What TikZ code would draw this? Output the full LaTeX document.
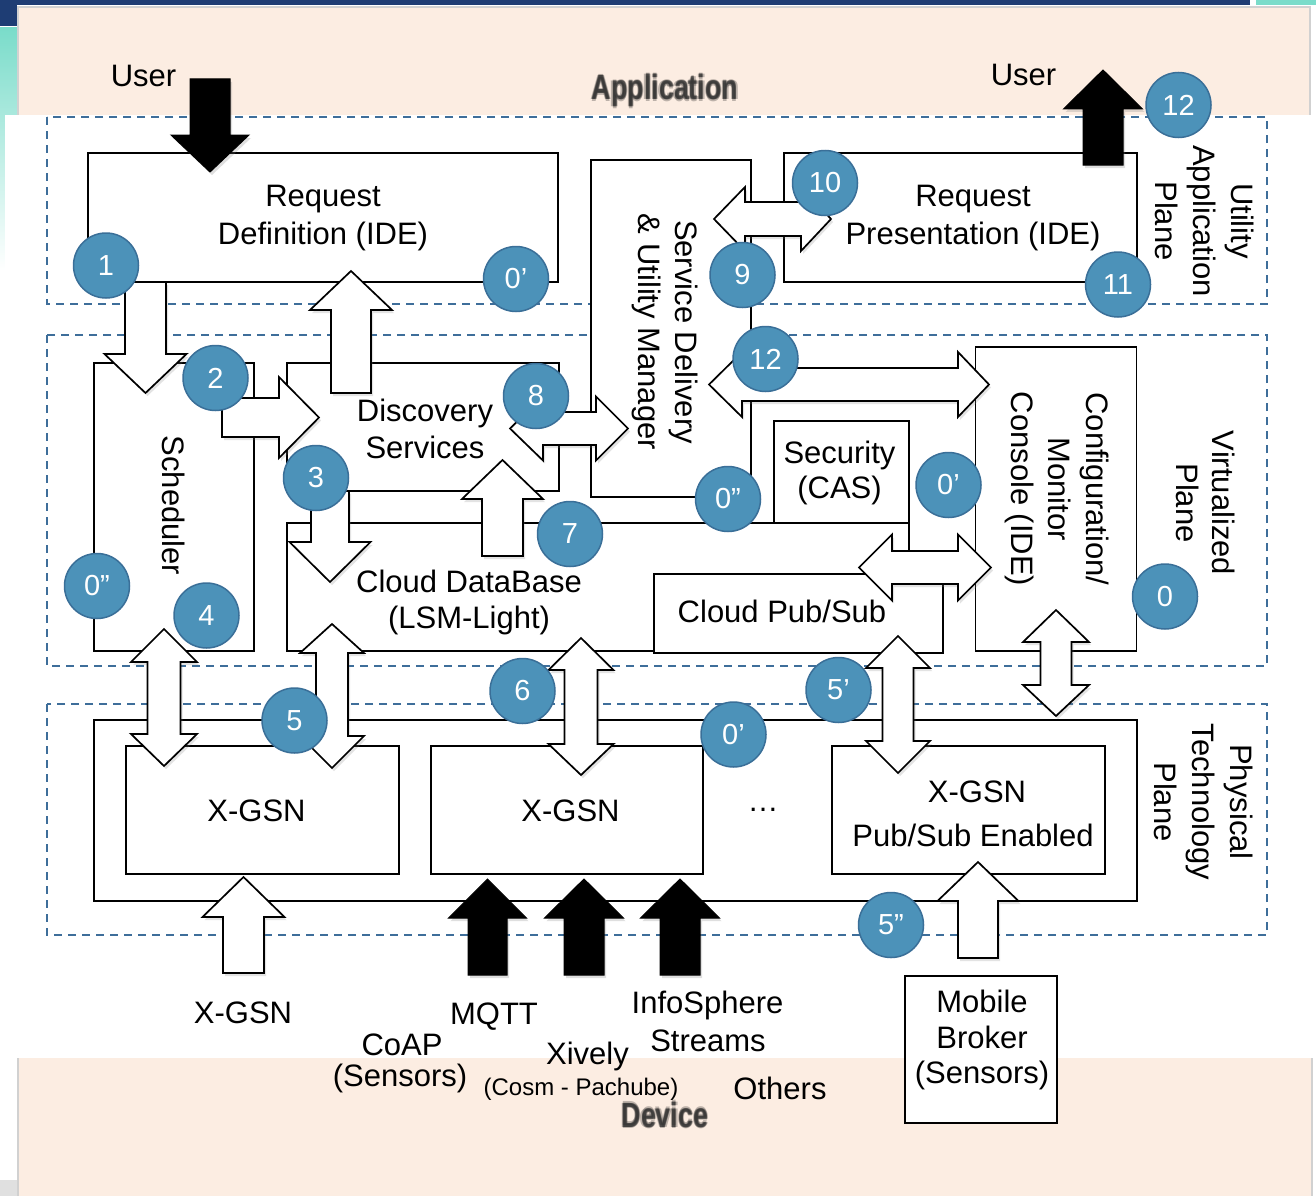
\documentclass[tikz,border=0pt]{standalone}
\usepackage{fontspec}
\usepackage{graphicx}
\setmainfont{Liberation Sans}
\usetikzlibrary{shadows}

\definecolor{peach}{RGB}{252,237,226}
\definecolor{dashblue}{RGB}{62,110,154}
\definecolor{badgefill}{RGB}{76,146,185}
\definecolor{badgeedge}{RGB}{58,111,152}
\definecolor{topband}{RGB}{30,61,116}
\definecolor{tealband}{RGB}{122,220,202}

\newcommand\fsMain{\fontsize{31}{38}\selectfont}
\newcommand\fsSmall{\fontsize{24}{28}\selectfont}

% vertical block arrow: style, x, tail y, head-base y, tip y, half shaft, half head
\newcommand\vblk[7]{\draw[#1] ({#2-#6},#3) -- ({#2-#6},#4) -- ({#2-#7},#4) -- (#2,#5)
  -- ({#2+#7},#4) -- ({#2+#6},#4) -- ({#2+#6},#3) -- cycle;}
% double vertical block arrow: style, x, top tip, top base, bottom base, bottom tip, half shaft, half head
\newcommand\dvblk[8]{\draw[#1] (#2,#3) -- ({#2+#8},#4) -- ({#2+#7},#4) -- ({#2+#7},#5)
  -- ({#2+#8},#5) -- (#2,#6) -- ({#2-#8},#5) -- ({#2-#7},#5) -- ({#2-#7},#4) -- ({#2-#8},#4) -- cycle;}
% horizontal block arrow: style, y, tail x, head-base x, tip x, half shaft, half head
\newcommand\hblk[7]{\draw[#1] (#3,{#2-#6}) -- (#4,{#2-#6}) -- (#4,{#2-#7}) -- (#5,#2)
  -- (#4,{#2+#7}) -- (#4,{#2+#6}) -- (#3,{#2+#6}) -- cycle;}
% double horizontal block arrow: style, y, left tip, left base, right base, right tip, half shaft, half head
\newcommand\dhblk[8]{\draw[#1] (#3,#2) -- (#4,{#2-#8}) -- (#4,{#2-#7}) -- (#5,{#2-#7})
  -- (#5,{#2-#8}) -- (#6,#2) -- (#5,{#2+#8}) -- (#5,{#2+#7}) -- (#4,{#2+#7}) -- (#4,{#2+#8}) -- cycle;}

\tikzset{
  box/.style={draw=black, line width=1.7pt, fill=white, inner sep=0pt},
  plane/.style={draw=dashblue, line width=1.5pt, dash pattern=on 8pt off 6pt},
  whitearrow/.style={draw=black, line width=1.7pt, fill=white, line join=miter,
    drop shadow={shadow xshift=2pt, shadow yshift=-3pt, opacity=0.22}},
  blackarrow/.style={draw=black, line width=1pt, fill=black, line join=miter,
    drop shadow={shadow xshift=2pt, shadow yshift=-3pt, opacity=0.25}},
  badge/.style={circle, fill=badgefill, draw=badgeedge, line width=1.5pt,
    minimum size=65pt, inner sep=0pt, text=white, font=\fontsize{29}{29}\selectfont},
  txt/.style={font=\fsMain, inner sep=0pt, align=center},
  basetxt/.style={font=\fsMain, inner sep=0pt, anchor=base},
  banner/.style={font=\fontsize{35}{35}\selectfont\bfseries, inner sep=0pt, anchor=base}
}

\begin{document}
\begin{tikzpicture}[x=1pt, y=-1pt]
\useasboundingbox (0,0) rectangle (1316,1196);

% ---------- slide background ----------
\fill[white] (0,0) rectangle (1316,1196);
\fill[topband] (0,0) rectangle (1250,5);
\fill[topband] (0,0) rectangle (17,26);
\fill[tealband] (1256,0) rectangle (1316,5);
\shade[top color=tealband, bottom color=white] (0,28) rectangle (17,270);
\fill[peach] (17,6) rectangle (1311,160);
\draw[black!18, line width=2pt] (18,6) -- (18,160) (1310,6) -- (1310,160) (17,7) -- (1311,7);
\fill[peach] (17,1058) rectangle (1313,1196);
\draw[black!18, line width=2pt] (18,1058) -- (18,1196) (1312,1058) -- (1312,1196);
\fill[black!12] (0,1180) rectangle (17,1196);
\fill[white] (5,115) rectangle (1316,1058);

% blurred band titles
\foreach \dx/\dy in {-1.2/0,1.2/0,0/-1.2,0/1.2}{
  \node[banner, text=black, opacity=0.25] at (665+\dx,100+\dy) {\scalebox{0.77}[1]{Application}};
  \node[banner, text=black, opacity=0.25] at (665+\dx,1127+\dy) {\scalebox{0.77}[1]{Device}};
}
\node[banner, text=black!80, opacity=0.7] (apptitle) at (665,100) {\scalebox{0.77}[1]{Application}};
\node[banner, text=black!80, opacity=0.7] (devtitle) at (665,1127) {\scalebox{0.77}[1]{Device}};

% ---------- planes ----------
\draw[plane] (47,117) rectangle (1267,304);
\draw[plane] (47,335) rectangle (1267,666);
\draw[plane] (47,704) rectangle (1267,935);

% ---------- components ----------
\node[box, minimum width=470pt, minimum height=129pt] (reqdef) at (323,217.5) {};
\node[box, minimum width=353pt, minimum height=129pt] (reqpres) at (960.5,217.5) {};
\node[box, minimum width=160pt, minimum height=337pt] (service) at (671,328.5) {};

\node[box, minimum width=160pt, minimum height=288pt] (sched) at (174,507) {};
\node[box, minimum width=272pt, minimum height=128pt] (disc) at (423,427) {};
\node[box, minimum width=622pt, minimum height=128pt] (clouddb) at (598,587) {};
\node[box, minimum width=135pt, minimum height=102pt] (security) at (841.5,472) {};
\node[box, minimum width=289pt, minimum height=79pt] (pubsub) at (798.5,613.5) {};
\node[box, minimum width=161pt, minimum height=304pt] (config) at (1056,499) {};

\node[box, minimum width=1043pt, minimum height=181pt] (phys) at (615.5,810.5) {};
\node[box, minimum width=273pt, minimum height=128pt] (xgsna) at (262.5,810) {};
\node[box, minimum width=272pt, minimum height=128pt] (xgsnb) at (567,810) {};
\node[box, minimum width=273pt, minimum height=128pt] (xgsnps) at (968.5,810) {};
\node[box, minimum width=152pt, minimum height=147pt] (mobile) at (981,1049.5) {};

% ---------- block arrows ----------
% user in / user out
\vblk{blackarrow}{210}{79}{135}{172}{20}{39}
\vblk{blackarrow}{1103}{165}{109}{70}{20}{39.5}
% request definition -> scheduler, scheduler -> discovery
\vblk{whitearrow}{145.5}{282}{354}{393}{20.5}{41}
\hblk{whitearrow}{417.5}{222}{279}{319}{19.5}{40.5}
% discovery -> request definition
\vblk{whitearrow}{351}{393}{310}{271}{20}{41}
% discovery -> cloud database, cloud database -> discovery
\vblk{whitearrow}{330}{491}{542}{582}{19}{40.5}
\vblk{whitearrow}{502.5}{556}{499}{460}{20.5}{40.5}
% discovery <-> service delivery
\dhblk{whitearrow}{428.5}{510}{543}{596}{628}{16.5}{32}
% service delivery <-> request presentation
\dhblk{whitearrow}{219}{714}{745}{801}{831}{17}{32}
% service delivery <-> configuration console
\dhblk{whitearrow}{384.5}{709}{742}{958}{989}{16.5}{32.5}
% cloud pub/sub <-> configuration console
\dhblk{whitearrow}{567.5}{859}{892}{958}{991}{16.5}{33}
% virtualized plane <-> physical plane
\dvblk{whitearrow}{164}{629}{662}{734}{766}{16.5}{33}
\dvblk{whitearrow}{332}{624}{653}{736}{768}{16}{32}
\dvblk{whitearrow}{581}{638}{670}{744}{775}{16.5}{32.5}
\dvblk{whitearrow}{898}{636}{668}{741}{773}{15.5}{32}
\dvblk{whitearrow}{1056}{610}{642}{685}{716}{15.5}{33}
% device sources
\vblk{whitearrow}{243.5}{973}{917}{877}{20.5}{41}
\vblk{blackarrow}{487.5}{975}{918}{879}{19.5}{39}
\vblk{blackarrow}{584}{975}{918}{879}{20}{39.5}
\vblk{blackarrow}{680}{975}{918}{879}{20}{39.5}
\vblk{whitearrow}{978}{958}{901}{862}{20}{40.5}

% ---------- texts ----------
\node[txt] (reqdef-t) at (323,218) {Request\\Definition (IDE)};
\node[txt] (reqpres-t) at (973,218) {Request\\Presentation (IDE)};
\node[txt, font=\fontsize{31}{37}\selectfont, rotate=-90] (service-t) at (665,332) {Service Delivery\\\& Utility Manager};
\node[txt, rotate=-90] (sched-t) at (173.5,505.5) {Scheduler};
\node[txt, font=\fontsize{31}{37}\selectfont] (disc-t) at (425,428.5) {Discovery\\Services};
\node[txt, font=\fontsize{31}{36}\selectfont] (clouddb-t) at (469,602) {Cloud DataBase\\(LSM-Light)};
\node[txt, font=\fontsize{31}{35}\selectfont] (security-t) at (839.5,472.5) {Security\\(CAS)};
\node[basetxt] (pubsub-t) at (782,622) {Cloud Pub/Sub};
\node[txt, font=\fontsize{31}{37.5}\selectfont, rotate=-90] (config-t) at (1057,489) {Configuration/\\Monitor\\Console (IDE)};

\node[basetxt] (xgsna-t) at (256.5,821) {X-GSN};
\node[basetxt] (xgsnb-t) at (570.5,821) {X-GSN};
\node[basetxt] (xgsnps-t1) at (977,802) {X-GSN};
\node[basetxt] (xgsnps-t2) at (973,846) {Pub/Sub Enabled};
\node[basetxt] (dots) at (763,811) {…};
\node[basetxt] (mobile-t1) at (982,1012) {Mobile};
\node[basetxt] (mobile-t2) at (982,1048) {Broker};
\node[basetxt] (mobile-t3) at (982,1083) {(Sensors)};

% plane names
\node[txt, rotate=-90] (uap-t) at (1205,221) {Utility\\Application\\Plane};
\node[txt, font=\fontsize{31}{36}\selectfont, rotate=-90] (vp-t) at (1206,503) {Virtualized\\Plane};
\node[txt, rotate=-90] (ptp-t) at (1204,802) {Physical\\Technology\\Plane};

% users
\node[basetxt] (user-in) at (143.5,87) {User};
\node[basetxt] (user-out) at (1023.5,86) {User};

% device protocols
\node[basetxt] (src-xgsn) at (243,1023) {X-GSN};
\node[basetxt] (src-mqtt) at (494,1024) {MQTT};
\node[basetxt] (src-coap) at (402,1055) {CoAP};
\node[basetxt] (src-coap2) at (400,1086) {(Sensors)};
\node[basetxt] (src-xively) at (587.5,1064) {Xively};
\node[basetxt, font=\fsSmall] (src-xively2) at (581,1095) {(Cosm - Pachube)};
\node[basetxt] (src-info) at (707.5,1013) {InfoSphere};
\node[basetxt] (src-info2) at (708,1051) {Streams};
\node[basetxt] (src-others) at (780,1099) {Others};

% ---------- step badges ----------
\node[badge] (b1) at (106,265.5) {1};
\node[badge] (b0a) at (516,279) {0’};
\node[badge] (b10) at (825,183) {10};
\node[badge] (b9) at (742.5,275) {9};
\node[badge] (b11) at (1118,284.5) {11};
\node[badge] (b12a) at (1178.5,105) {12};
\node[badge] (b2) at (215.5,378) {2};
\node[badge] (b8) at (536,396) {8};
\node[badge] (b3) at (316,478) {3};
\node[badge] (b7) at (570,534) {7};
\node[badge] (b12b) at (765.5,359) {12};
\node[badge] (b0ppb) at (728,499) {0”};
\node[badge] (b0pb) at (948.5,485) {0’};
\node[badge] (b0ppa) at (97,586) {0”};
\node[badge] (b4) at (206.5,615.5) {4};
\node[badge] (b0) at (1165,596.5) {0};
\node[badge] (b5) at (294.5,720.5) {5};
\node[badge] (b6) at (522.5,691) {6};
\node[badge] (b5pa) at (838.5,690) {5’};
\node[badge] (b0pc) at (733.5,734.5) {0’};
\node[badge] (b5pp) at (891,925) {5”};
\end{tikzpicture}
\end{document}
